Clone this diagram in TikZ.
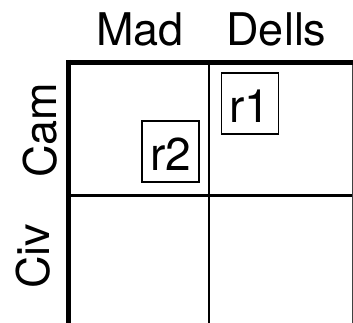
\documentclass[tikz,border=0pt]{standalone}
\usepackage{fontspec}
\setmainfont{TeX Gyre Heros}
\begin{document}
\begin{tikzpicture}[x=1pt,y=-1pt,
  lbl/.style={font=\fontsize{45}{50}\selectfont, inner sep=0pt, anchor=base},
  rbox/.style={draw, line width=1.3pt, minimum width=57pt, minimum height=61pt,
    inner sep=0pt, text height=38pt, text depth=0pt, font=\fontsize{46}{50}\selectfont},
  thick line/.style={line width=5pt},
  thin line/.style={line width=2.8pt}]
\useasboundingbox (0,0) rectangle (353,323);
\clip (0,0) rectangle (353,323);
% coordinates
\coordinate (tl) at (66,62.5);
\coordinate (tr) at (356,62.5);
\coordinate (lt) at (68.5,60);
\coordinate (lb) at (68.5,326);
\coordinate (mt) at (209,62.5);
\coordinate (mb) at (209,326);
\coordinate (hl) at (68.5,195.5);
\coordinate (hr) at (356,195.5);
\coordinate (rt) at (353,62.5);
\coordinate (rb) at (353,326);
% grid
\draw[thin line] (mt) -- (mb);
\draw[thin line] (hl) -- (hr);
\draw[line width=3pt,black!75] (rt) -- (rb);
\draw[thick line] (tl) -- (tr);
\draw[thick line] (lt) -- (lb);
% labels
\node[lbl] (mad) at (140,46) {Mad};
\node[lbl] (dells) at (276.5,46) {Dells};
\node[lbl, rotate=90] (cam) at (56.5,130.5) {Cam};
\node[lbl, rotate=90] (civ) at (49.5,256) {Civ};
% boxes
\node[rbox] (r1) at (249.8,103.5) {r1};
\node[rbox] (r2) at (170.5,151.5) {r2};
\end{tikzpicture}
\end{document}
